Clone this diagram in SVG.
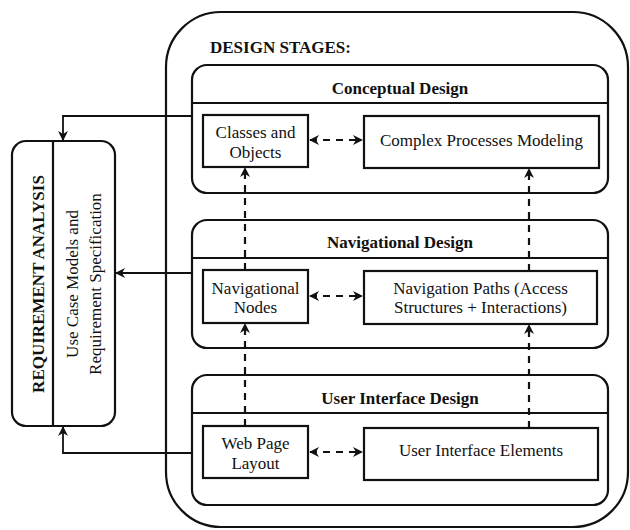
<svg xmlns="http://www.w3.org/2000/svg" width="630" height="530" viewBox="0 0 630 530">
  <style>
    .frame { fill: none; stroke: #111; stroke-width: 2.2; }
    .box { fill: #fff; stroke: #111; stroke-width: 2.2; }
    .line { fill: none; stroke: #111; stroke-width: 1.8; }
    .dash { fill: none; stroke: #111; stroke-width: 2.2; stroke-dasharray: 7 6; }
    text { font-family: "Liberation Serif", "Times New Roman", serif; fill: #111; }
    .title { font-size: 17px; font-weight: bold; text-anchor: middle; }
    .label { font-size: 17px; text-anchor: middle; }
  </style>
  <defs>
    <marker id="head" viewBox="0 0 10 10" refX="9" refY="5" markerWidth="10" markerHeight="10" markerUnits="userSpaceOnUse" orient="auto-start-reverse">
      <path d="M0,0 L10,5 L0,10 L3,5 z" fill="#111"/>
    </marker>
  </defs>
  <rect width="630" height="530" fill="#fff"/>

  <!-- Requirement analysis -->
  <g id="requirement-analysis">
    <rect class="box" x="12" y="141" width="103" height="285" rx="14"/>
    <line class="frame" x1="53" y1="141" x2="53" y2="426"/>
    <text class="title" transform="translate(44,284) rotate(-90)">REQUIREMENT ANALYSIS</text>
    <text class="label" transform="translate(78,284) rotate(-90)">Use Case Models and</text>
    <text class="label" transform="translate(101,284) rotate(-90)">Requirement Specification</text>
  </g>

  <!-- Design stages container -->
  <g id="design-stages">
    <rect class="frame" x="166" y="12" width="462" height="515" rx="55"/>
    <text x="210" y="53" style="font-size:17px;font-weight:bold">DESIGN STAGES:</text>
  </g>

  <!-- Conceptual design -->
  <g id="conceptual-design">
    <rect class="box" x="192" y="65" width="416" height="128" rx="15"/>
    <line class="frame" x1="192" y1="103" x2="608" y2="103"/>
    <text class="title" x="400" y="94">Conceptual Design</text>
  </g>
  <g id="classes-objects">
    <rect class="box" x="203" y="115" width="105" height="52"/>
    <text class="label" x="255.5" y="138">Classes and</text>
    <text class="label" x="255.5" y="158">Objects</text>
  </g>
  <g id="complex-processes">
    <rect class="box" x="364" y="116" width="235" height="52"/>
    <text class="label" x="481.5" y="146">Complex Processes Modeling</text>
  </g>

  <!-- Navigational design -->
  <g id="navigational-design">
    <rect class="box" x="192" y="220" width="416" height="128" rx="15"/>
    <line class="frame" x1="192" y1="258" x2="608" y2="258"/>
    <text class="title" x="400" y="248">Navigational Design</text>
  </g>
  <g id="navigational-nodes">
    <rect class="box" x="203" y="270" width="105" height="53"/>
    <text class="label" x="255.5" y="294">Navigational</text>
    <text class="label" x="255.5" y="313">Nodes</text>
  </g>
  <g id="navigation-paths">
    <rect class="box" x="364" y="271" width="233" height="53"/>
    <text class="label" x="480.5" y="294">Navigation Paths (Access</text>
    <text class="label" x="480.5" y="313">Structures + Interactions)</text>
  </g>

  <!-- User interface design -->
  <g id="ui-design">
    <rect class="box" x="192" y="375" width="416" height="130" rx="15"/>
    <line class="frame" x1="192" y1="413" x2="608" y2="413"/>
    <text class="title" x="400" y="404">User Interface Design</text>
  </g>
  <g id="web-page-layout">
    <rect class="box" x="203" y="426" width="105" height="52"/>
    <text class="label" x="255.5" y="449">Web Page</text>
    <text class="label" x="255.5" y="469">Layout</text>
  </g>
  <g id="ui-elements">
    <rect class="box" x="364" y="428" width="234" height="52"/>
    <text class="label" x="481" y="456">User Interface Elements</text>
  </g>

  <!-- Connectors -->
  <g id="connectors">
    <polyline class="line" points="192,116 63,116 63,140" marker-end="url(#head)"/>
    <line class="line" x1="192" y1="273" x2="116" y2="273" marker-end="url(#head)"/>
    <polyline class="line" points="192,453 63,453 63,427" marker-end="url(#head)"/>

    <line class="dash" x1="310" y1="140" x2="362" y2="140" marker-start="url(#head)" marker-end="url(#head)"/>
    <line class="dash" x1="310" y1="296" x2="362" y2="296" marker-start="url(#head)" marker-end="url(#head)"/>
    <line class="dash" x1="310" y1="452" x2="362" y2="452" marker-start="url(#head)" marker-end="url(#head)"/>

    <line class="dash" x1="245" y1="426" x2="245" y2="324" marker-end="url(#head)"/>
    <line class="dash" x1="245" y1="270" x2="245" y2="168" marker-end="url(#head)"/>
    <line class="dash" x1="529" y1="428" x2="529" y2="325" marker-end="url(#head)"/>
    <line class="dash" x1="529" y1="271" x2="529" y2="169" marker-end="url(#head)"/>
  </g>
</svg>
